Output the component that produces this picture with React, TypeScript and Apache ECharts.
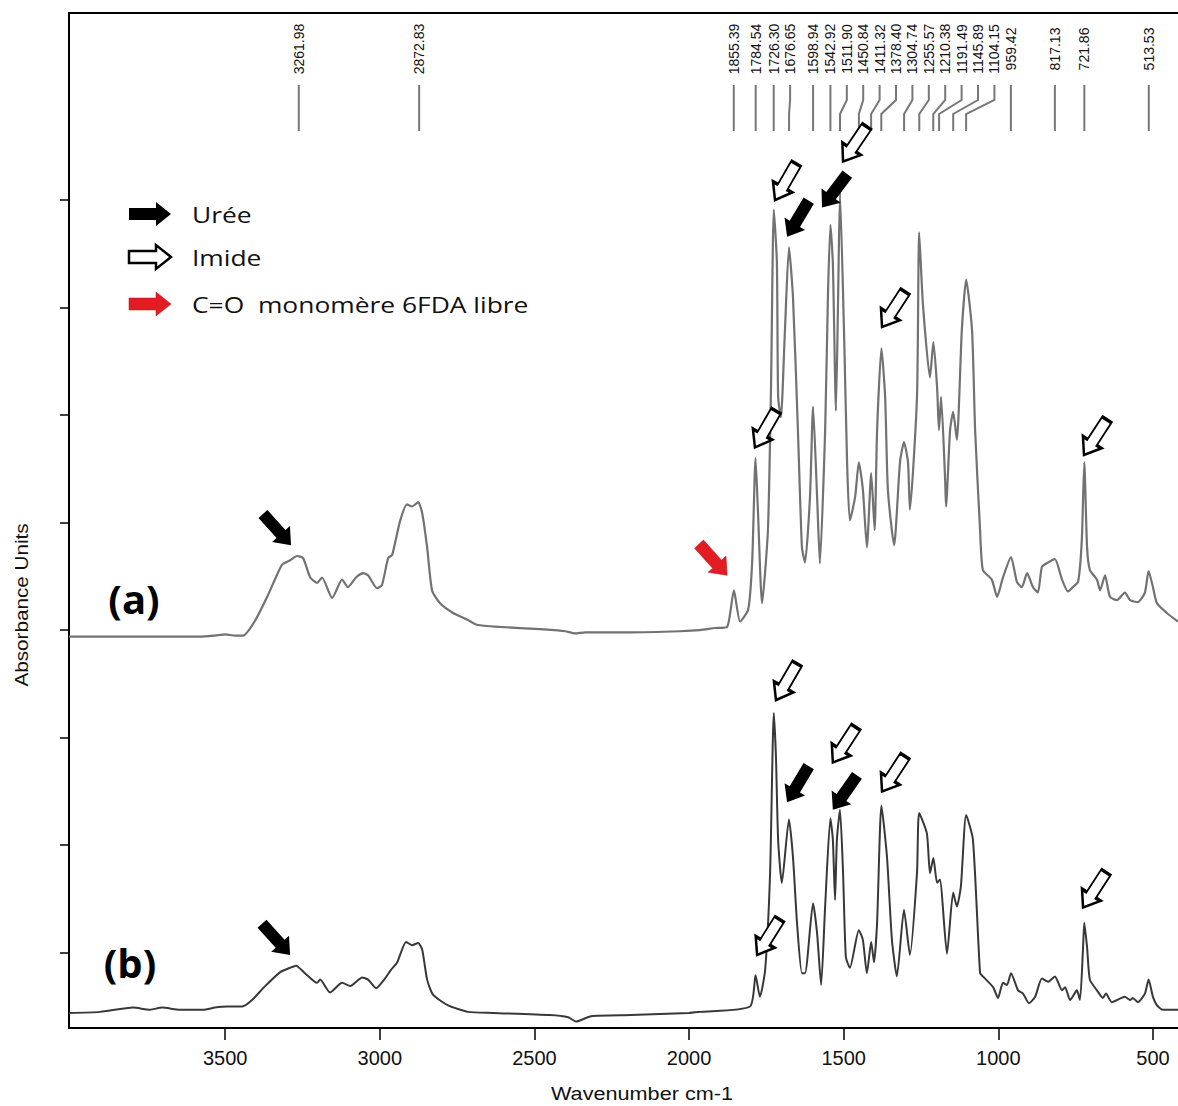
import React, { useEffect, useRef } from "react";
import * as echarts from "echarts";

// ---------- axes ----------
const X_MIN = 419;
const X_MAX = 4005;
const X_TICKS = [500, 1000, 1500, 2000, 2500, 3000, 3500];
const Y_MIN = -0.7;
const Y_MAX = 8.74;
const Y_TICKS = [0, 1, 2, 3, 4, 5, 6, 7];
const X_TITLE = "Wavenumber cm-1";
const Y_TITLE = "Absorbance Units";

// ---------- spectrum (a) ----------
const WN_A = [4005, 3743, 3581, 3533, 3500, 3468, 3442, 3403, 3361, 3316, 3290, 3268, 3248, 3225, 3203, 3187, 3154, 3122, 3103, 3077, 3054, 3038, 3009, 2993, 2973, 2960, 2935, 2912, 2896, 2876, 2863, 2847, 2831, 2805, 2763, 2718, 2686, 2611, 2482, 2401, 2369, 2336, 2191, 2029, 1965, 1916, 1877, 1855, 1835, 1809, 1796, 1785, 1777, 1764, 1745, 1735, 1726, 1716, 1712, 1703, 1690, 1677, 1664, 1648, 1635, 1625, 1609, 1599, 1586, 1577, 1560, 1551, 1543, 1535, 1525, 1518, 1512, 1499, 1489, 1480, 1463, 1451, 1438, 1425, 1411, 1400, 1392, 1378, 1366, 1357, 1337, 1318, 1305, 1292, 1286, 1263, 1256, 1244, 1221, 1210, 1198, 1192, 1185, 1172, 1169, 1156, 1146, 1134, 1118, 1104, 1085, 1075, 1059, 1050, 1021, 1004, 985, 959, 940, 924, 907, 888, 872, 859, 839, 817, 794, 775, 759, 742, 730, 722, 713, 704, 681, 671, 655, 639, 616, 591, 574, 549, 526, 514, 500, 487, 455, 419];
const ABS_A = [2.94, 2.94, 2.94, 2.95, 2.96, 2.95, 2.95, 3.09, 3.33, 3.61, 3.65, 3.69, 3.67, 3.49, 3.44, 3.49, 3.30, 3.47, 3.40, 3.49, 3.53, 3.51, 3.39, 3.42, 3.67, 3.70, 4.01, 4.17, 4.15, 4.19, 4.09, 3.77, 3.37, 3.25, 3.16, 3.10, 3.05, 3.03, 3.01, 2.99, 2.97, 2.98, 2.98, 2.99, 3.00, 3.02, 3.03, 3.37, 3.08, 3.19, 3.63, 4.60, 4.09, 3.25, 3.93, 5.26, 6.91, 6.42, 5.17, 4.98, 5.79, 6.56, 6.10, 4.86, 3.77, 3.63, 4.24, 5.08, 4.24, 3.62, 4.86, 6.10, 6.77, 6.41, 5.04, 6.10, 7.07, 5.79, 4.56, 4.02, 4.24, 4.56, 4.31, 3.77, 4.46, 3.93, 4.86, 5.62, 5.17, 4.30, 3.79, 4.56, 4.75, 4.56, 4.12, 5.17, 6.70, 6.04, 5.35, 5.68, 5.26, 4.86, 5.17, 4.40, 4.15, 4.86, 5.03, 4.77, 5.79, 6.26, 5.79, 4.86, 3.93, 3.56, 3.47, 3.31, 3.49, 3.68, 3.45, 3.40, 3.53, 3.40, 3.35, 3.59, 3.63, 3.66, 3.47, 3.36, 3.40, 3.45, 3.84, 4.56, 3.77, 3.56, 3.47, 3.37, 3.51, 3.31, 3.28, 3.35, 3.28, 3.26, 3.35, 3.55, 3.40, 3.25, 3.16, 3.08];

// ---------- spectrum (b) ----------
const WN_B = [4005, 3904, 3798, 3743, 3704, 3646, 3571, 3533, 3494, 3445, 3413, 3374, 3322, 3290, 3271, 3242, 3203, 3193, 3161, 3122, 3096, 3057, 3038, 3012, 2986, 2964, 2944, 2915, 2896, 2876, 2863, 2847, 2828, 2779, 2715, 2634, 2450, 2391, 2365, 2317, 2188, 2000, 1965, 1803, 1785, 1771, 1754, 1738, 1726, 1719, 1712, 1700, 1677, 1664, 1651, 1635, 1625, 1599, 1586, 1573, 1560, 1543, 1535, 1528, 1522, 1512, 1502, 1493, 1480, 1451, 1438, 1425, 1411, 1402, 1392, 1378, 1360, 1344, 1328, 1305, 1286, 1263, 1256, 1231, 1221, 1210, 1198, 1189, 1166, 1146, 1134, 1121, 1104, 1082, 1059, 1050, 1017, 1001, 985, 972, 959, 936, 920, 901, 881, 859, 839, 817, 794, 784, 768, 746, 736, 726, 722, 713, 704, 681, 662, 652, 633, 591, 574, 565, 549, 526, 514, 500, 487, 468, 419];
const ABS_B = [-0.56, -0.55, -0.51, -0.53, -0.51, -0.53, -0.53, -0.51, -0.50, -0.50, -0.44, -0.32, -0.18, -0.14, -0.12, -0.19, -0.28, -0.25, -0.37, -0.28, -0.31, -0.23, -0.25, -0.33, -0.25, -0.16, -0.09, 0.10, 0.07, 0.09, 0.03, -0.25, -0.39, -0.49, -0.55, -0.56, -0.58, -0.60, -0.64, -0.59, -0.58, -0.56, -0.55, -0.50, -0.21, -0.41, -0.16, 0.74, 2.23, 1.82, 1.05, 0.65, 1.24, 0.89, 0.28, -0.19, -0.19, 0.46, 0.18, -0.30, 0.43, 1.25, 1.05, 0.49, 1.05, 1.33, 0.74, -0.04, -0.14, 0.21, 0.12, -0.19, 0.10, -0.09, 0.28, 1.37, 0.89, 0.12, -0.22, 0.40, -0.02, 0.74, 1.30, 1.11, 0.74, 0.88, 0.65, 0.68, -0.01, 0.56, 0.43, 0.62, 1.28, 1.05, -0.19, -0.22, -0.32, -0.42, -0.28, -0.30, -0.19, -0.35, -0.38, -0.47, -0.41, -0.24, -0.27, -0.22, -0.35, -0.32, -0.44, -0.35, -0.44, 0.05, 0.28, 0.05, -0.25, -0.35, -0.42, -0.38, -0.46, -0.41, -0.44, -0.42, -0.46, -0.38, -0.25, -0.41, -0.49, -0.53, -0.53];

// ---------- peak picks (top) ----------
const PEAKS = [3261.98, 2872.83, 1855.39, 1784.54, 1726.3, 1676.65, 1598.94, 1542.92, 1511.9, 1450.84, 1411.32, 1378.4, 1304.74, 1255.57, 1210.38, 1191.49, 1145.89, 1104.15, 959.42, 817.13, 721.86, 513.53];
const PEAK_LABELS = PEAKS.map((w) => w.toFixed(2));

// ---------- arrows: [wavenumber, value at tip, angle below horizontal, side (1 right, -1 left)] ----------
const UREE_ARROWS = [
  [3287, 3.79, 48, 1], [1683, 6.66, 59, -1], [1570, 6.93, 53, -1],
  [3290, -0.02, 48, 1], [1683, 1.4, 59, -1], [1535, 1.33, 55, -1],
];
const IMIDE_ARROWS = [
  [1787, 4.7, 60, -1], [1722, 7.0, 60, -1], [1502, 7.36, 56, -1], [1376, 5.82, 57, -1], [723, 4.63, 57, -1],
  [1780, -0.02, 58, -1], [1719, 2.35, 60, -1], [1535, 1.77, 57, -1], [1376, 1.5, 57, -1], [726, 0.42, 57, -1],
];
const CO_ARROWS = [[1877, 3.51, 48, 1]];

const LEGEND = ["Urée", "Imide", "C=O  monomère 6FDA libre"];

const ARROW_PATH = "path://M0,6L27,6L27,0L42,12L27,24L27,18L0,18Z";
const ARROW_PTS = [[0, 6], [27, 6], [27, 0], [42, 12], [27, 24], [27, 18], [0, 18]];
const LABEL_GAP = 16.4;

function arrowItems(list: number[][]) {
  return list.map(([w, v, ang, side]) => {
    const rad = (ang * Math.PI) / 180;
    const dx = side * Math.cos(rad);
    const dy = Math.sin(rad);
    return {
      value: [w, v],
      symbolRotate: side > 0 ? -ang : ang - 180,
      symbolOffset: [-21 * dx, -21 * dy],
    };
  });
}

export default function App() {
  const ref = useRef<HTMLDivElement>(null);
  useEffect(() => {
    if (!ref.current) return;
    const chart = echarts.init(ref.current, null, { renderer: "svg" });
    const font = "'Liberation Sans', Arial, sans-serif";
    const legendFont = "'Open Sans', 'Noto Sans', sans-serif";
    const centers = [214, 257, 304];
    const legendStyles = [
      { fill: "#000", stroke: "#000", lineWidth: 0 },
      { fill: "#fff", stroke: "#000", lineWidth: 2.5 },
      { fill: "#e31b23", stroke: "#b3141b", lineWidth: 0.5 },
    ];
    const graphic: any[] = [];
    LEGEND.forEach((t, i) => {
      graphic.push({
        type: "polygon",
        x: 129,
        y: centers[i] - 12,
        shape: { points: ARROW_PTS },
        style: legendStyles[i],
        z: 10,
      });
      graphic.push({
        type: "text",
        x: 192,
        y: centers[i],
        scaleX: 1.2,
        style: { text: t, fill: "#111", fontSize: 22, fontFamily: legendFont, verticalAlign: "middle", align: "left" },
        z: 10,
      });
    });
    graphic.push({
      type: "text", x: 134, y: 598,
      style: { text: "(a)", fill: "#000", fontSize: 40, fontWeight: "bold", fontFamily: legendFont, align: "center", verticalAlign: "middle" },
      z: 10,
    });
    graphic.push({
      type: "text", x: 130, y: 962,
      style: { text: "(b)", fill: "#000", fontSize: 40, fontWeight: "bold", fontFamily: legendFont, align: "center", verticalAlign: "middle" },
      z: 10,
    });
    graphic.push({
      type: "text", x: 22, y: 605, rotation: Math.PI / 2, scaleX: 1.15,
      style: { text: Y_TITLE, fill: "#111", fontSize: 18, fontFamily: font, align: "center", verticalAlign: "middle" },
      z: 10,
    });
    graphic.push({
      type: "text", x: 642, y: 1093, scaleX: 1.14,
      style: { text: X_TITLE, fill: "#111", fontSize: 19, fontFamily: font, align: "center", verticalAlign: "middle" },
      z: 10,
    });

    const lineCommon = { showSymbol: false, symbol: "none", smooth: 0.2, z: 2 };

    chart.setOption({
      animation: false,
      backgroundColor: "#fff",
      grid: { left: 69, right: 0, top: 13, bottom: 78 },
      xAxis: [
        {
          type: "value",
          min: X_MIN,
          max: X_MAX,
          inverse: true,
          axisLine: { show: true, onZero: false, lineStyle: { color: "#000", width: 2 } },
          axisTick: { show: true, customValues: X_TICKS, length: 12, lineStyle: { color: "#000", width: 1.5 } },
          axisLabel: {
            show: true,
            customValues: X_TICKS,
            margin: 20,
            fontSize: 20,
            color: "#111",
            fontFamily: font,
            formatter: (v: number) => String(v),
          },
          splitLine: { show: false },
        },
        {
          type: "value",
          min: X_MIN,
          max: X_MAX,
          inverse: true,
          position: "top",
          axisLine: { show: true, onZero: false, lineStyle: { color: "#000", width: 2 } },
          axisTick: { show: false },
          axisLabel: { show: false },
          splitLine: { show: false },
        },
      ],
      yAxis: {
        type: "value",
        min: Y_MIN,
        max: Y_MAX,
        axisLine: { show: true, onZero: false, lineStyle: { color: "#000", width: 2 } },
        axisTick: { show: true, customValues: Y_TICKS, length: 9, lineStyle: { color: "#000", width: 1.5 } },
        axisLabel: { show: false },
        splitLine: { show: false },
      },
      graphic,
      series: [
        {
          type: "line",
          name: "(a)",
          data: WN_A.map((w, i) => [w, ABS_A[i]]),
          lineStyle: { color: "#727272", width: 2.2 },
          ...lineCommon,
        },
        {
          type: "line",
          name: "(b)",
          data: WN_B.map((w, i) => [w, ABS_B[i]]),
          lineStyle: { color: "#383838", width: 2 },
          ...lineCommon,
        },
        {
          type: "custom",
          name: "peaks",
          clip: false,
          data: PEAKS.map((w) => [w, 0]),
          renderItem: (params: any, api: any) => {
            const i = params.dataIndex;
            const xs = PEAKS.map((w) => api.coord([w, 0])[0]);
            const lx: number[] = [];
            xs.forEach((x, k) => {
              lx.push(k === 0 ? x : Math.max(x, lx[k - 1] + LABEL_GAP));
            });
            const top = params.coordSys.y;
            return {
              type: "group",
              children: [
                {
                  type: "polyline",
                  shape: { points: [[lx[i], top + 72], [lx[i], top + 87], [xs[i], top + 101], [xs[i], top + 118]] },
                  style: { stroke: "#777", lineWidth: 2, fill: "none" },
                },
                {
                  type: "text",
                  x: lx[i],
                  y: top + 36,
                  rotation: Math.PI / 2,
                  style: { text: PEAK_LABELS[i], fill: "#111", fontSize: 14, fontFamily: font, align: "center", verticalAlign: "middle" },
                },
              ],
            };
          },
          z: 3,
        },
        {
          type: "scatter",
          name: "Urée",
          symbol: ARROW_PATH,
          symbolSize: [42, 24],
          itemStyle: { color: "#000", opacity: 1 },
          data: arrowItems(UREE_ARROWS),
          z: 5,
        },
        {
          type: "scatter",
          name: "Imide",
          symbol: ARROW_PATH,
          symbolSize: [42, 22],
          itemStyle: { color: "#fff", borderColor: "#000", borderWidth: 2.5, opacity: 1 },
          data: arrowItems(IMIDE_ARROWS),
          z: 5,
        },
        {
          type: "scatter",
          name: "C=O",
          symbol: ARROW_PATH,
          symbolSize: [42, 24],
          itemStyle: { color: "#e31b23", borderColor: "#b3141b", borderWidth: 0.5, opacity: 1 },
          data: arrowItems(CO_ARROWS),
          z: 5,
        },
      ],
    });
    return () => chart.dispose();
  }, []);
  return <div ref={ref} style={{ position: "absolute", left: 0, top: 0, width: 1178, height: 1106 }} />;
}
